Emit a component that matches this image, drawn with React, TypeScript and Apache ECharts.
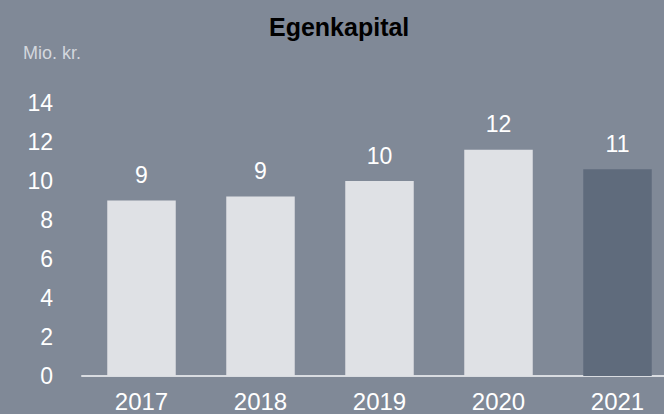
import React, { useEffect, useRef } from "react";
import * as echarts from "echarts";

const title = "Egenkapital";
const unitLabel = "Mio. kr.";
const years = ["2017", "2018", "2019", "2020", "2021"];
const equity = [9.0, 9.2, 10.0, 11.6, 10.6];
const barColors = ["#dfe1e5", "#dfe1e5", "#dfe1e5", "#dfe1e5", "#5f6b7c"];
const yMin = 0;
const yMax = 14;
const yStep = 2;

const FONT = "'Liberation Sans', Arial, Helvetica, sans-serif";

export default function App() {
  const ref = useRef<HTMLDivElement>(null);
  useEffect(() => {
    if (!ref.current) return;
    const chart = echarts.init(ref.current, null, { renderer: "svg" });
    chart.setOption({
      animation: false,
      backgroundColor: "#808997",
      textStyle: { fontFamily: FONT },
      graphic: [
        {
          type: "text",
          left: 341 - 72,
          top: 14,
          style: {
            text: title,
            font: `bold 25px ${FONT}`,
            fill: "#000000",
          },
        },
        {
          type: "text",
          left: 23,
          top: 44,
          style: {
            text: unitLabel,
            font: `18px ${FONT}`,
            fill: "#d3d7dd",
          },
        },
      ],
      grid: { left: 82, top: 103, width: 595, height: 273, containLabel: false },
      xAxis: {
        type: "category",
        data: years,
        axisLine: { show: true, lineStyle: { color: "#d9dce1", width: 2 } },
        axisTick: { show: false },
        axisLabel: { color: "#ffffff", fontSize: 24, fontFamily: FONT, margin: 13 },
      },
      yAxis: {
        type: "value",
        min: yMin,
        max: yMax,
        interval: yStep,
        axisLine: { show: false },
        axisTick: { show: false },
        splitLine: { show: false },
        axisLabel: { color: "#ffffff", fontSize: 23, fontFamily: FONT, margin: 29 },
      },
      series: [
        {
          type: "bar",
          data: equity.map((v, i) => ({ value: v, itemStyle: { color: barColors[i] } })),
          barWidth: 68.5,
          label: {
            show: true,
            position: "top",
            distance: 14,
            color: "#ffffff",
            fontSize: 23,
            fontFamily: FONT,
            formatter: (p: any) => String(Math.round(p.value)),
          },
        },
      ],
    });
    return () => chart.dispose();
  }, []);
  return (
    <div style={{ width: 664, height: 414, position: "absolute", left: 0, top: 0, overflow: "hidden", background: "#808997" }}>
      <div ref={ref} style={{ width: 700, height: 414 }} />
    </div>
  );
}
